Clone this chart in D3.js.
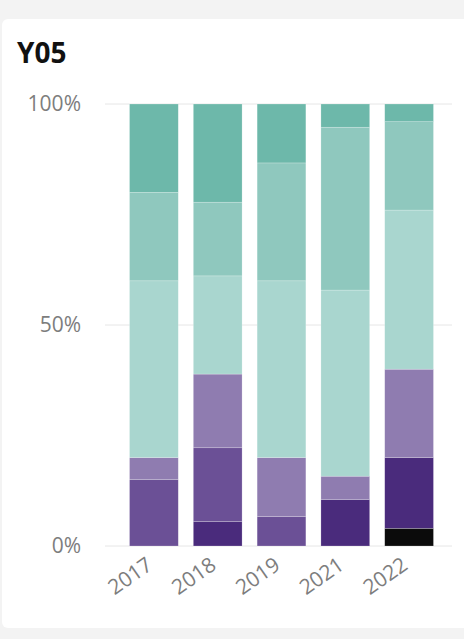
<!DOCTYPE html>
<html><head><meta charset="utf-8">
<script src="https://cdn.jsdelivr.net/npm/d3@7"></script>
<style>
html,body{margin:0;padding:0;background:#f3f3f3;}
svg{display:block;}
</style></head>
<body>
<svg id="c" width="464" height="639"></svg>
<script>
const years = ["2017","2018","2019","2021","2022"];
const seriesNames = ["s1","s2","s3","s4","s5","s6","s7"];
// bottom to top
const s1 = [0, 0, 0, 0, 4];              // black
const s2 = [0, 5.56, 0, 10.53, 16];      // dark purple
const s3 = [15, 16.67, 6.67, 0, 0];      // medium purple
const s4 = [5, 16.67, 13.33, 5.26, 20];  // light purple
const s5 = [40, 22.22, 40, 42.11, 36];   // light teal
const s6 = [20, 16.67, 26.67, 36.84, 20];// medium teal
const s7 = [20, 22.22, 13.33, 5.26, 4];  // dark teal
const yTicks = [0, 50, 100];
const colors = ["#0b0b0b","#4a2b7c","#6b5096","#8f7cb0","#a9d6cf","#8fc8be","#6db8aa"];

const seriesVals = [s1,s2,s3,s4,s5,s6,s7];
const rows = years.map((y,i)=>{const r={year:y}; seriesNames.forEach((n,k)=>r[n]=seriesVals[k][i]); return r;});
const stack = d3.stack().keys(seriesNames).offset(d3.stackOffsetExpand)(rows);

const svg = d3.select("#c");
// card
svg.append("rect").attr("x",2).attr("y",19).attr("width",470).attr("height",609).attr("rx",6).attr("fill","#fff");

svg.append("text").attr("x",17).attr("y",63).text("Y05")
  .attr("font-family","'Open Sans', 'DejaVu Sans', sans-serif").attr("font-weight","700")
  .attr("font-size",28).attr("fill","#111");

const x = d3.scaleBand().domain(years).range([122,441]).paddingInner(0.236).paddingOuter(0.118);
const y = d3.scaleLinear().domain([0,1]).range([546,104]);

const yAxis = d3.axisLeft(y).tickValues(yTicks.map(v=>v/100)).tickFormat(d=>Math.round(d*100)+"%").tickSize(0).tickPadding(0);
const gy = svg.append("g").attr("transform","translate(81,0)").call(yAxis);
gy.select(".domain").remove();
gy.selectAll("text").attr("font-family","'Open Sans', 'Noto Sans', sans-serif").attr("font-size",21).attr("fill","#7d7d7d");

// gridlines
svg.append("g").selectAll("line").data(yTicks).join("line")
  .attr("x1",105).attr("x2",452).attr("y1",d=>y(d/100)).attr("y2",d=>y(d/100))
  .attr("stroke","#e6e6e6").attr("stroke-width",1);

svg.append("g").selectAll("g").data(stack).join("g")
  .attr("fill",(d,i)=>colors[i])
  .selectAll("rect").data(d=>d).join("rect")
  .attr("x",d=>x(d.data.year)).attr("width",x.bandwidth())
  .attr("y",d=>y(d[1])).attr("height",d=>Math.max(0,y(d[0])-y(d[1])))
  .attr("stroke","rgba(255,255,255,0.35)").attr("stroke-width",0.6);

const xAxis = d3.axisBottom(x).tickSize(0).tickPadding(0);
const gx = svg.append("g").attr("transform","translate(0,548)").call(xAxis);
gx.select(".domain").remove();
gx.selectAll("text")
  .attr("font-family","'Open Sans', 'Noto Sans', sans-serif").attr("font-size",21).attr("fill","#7d7d7d")
  .attr("text-anchor","end").attr("y",0).attr("dy",0)
  .attr("transform","translate(0,20) rotate(-35)");
</script>
</body></html>
